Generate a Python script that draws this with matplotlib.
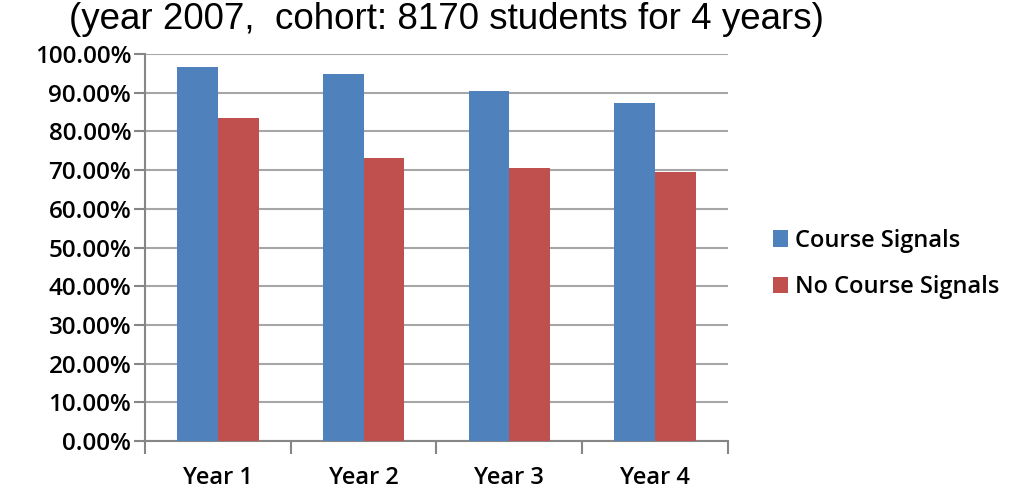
import numpy as np
import matplotlib.pyplot as plt
from matplotlib.ticker import FuncFormatter

years = ["Year 1", "Year 2", "Year 3", "Year 4"]
course_signals = [96.7, 94.8, 90.5, 87.3]
no_course_signals = [83.4, 73.1, 70.5, 69.4]
yticks = np.arange(0, 101, 10)

blue = "#4f81bd"
red = "#c0504d"
axis_gray = "#868686"
lab_font = {"family": "Open Sans", "weight": "semibold", "size": 17}

fig = plt.figure(figsize=(10.22, 4.92), dpi=100)
ax = fig.add_axes([0.1419, 0.1037, 0.5704, 0.7865])

x = np.arange(len(years))
w = 0.28
ax.bar(x - w/2, course_signals, w, color=blue, label="Course Signals", zorder=3)
ax.bar(x + w/2, no_course_signals, w, color=red, label="No Course Signals", zorder=3)

ax.set_xlim(-0.5, len(years) - 0.5)
ax.set_ylim(0, 100)
ax.set_yticks(yticks)
ax.yaxis.set_major_formatter(FuncFormatter(lambda v, p: "%.2f%%" % v))
ax.set_xticks(x)
ax.set_xticklabels(years)
ax.set_xticks(np.arange(len(years) + 1) - 0.5, minor=True)

ax.grid(axis="y", color="#a6a6a6", linewidth=1.5, zorder=0)
for s in ["top", "right"]:
    ax.spines[s].set_visible(False)
for s in ["left", "bottom"]:
    ax.spines[s].set_color(axis_gray)
    ax.spines[s].set_linewidth(1.5)

ax.tick_params(axis="y", length=8, width=1.5, color=axis_gray, pad=2)
ax.tick_params(axis="x", which="major", length=0, pad=18)
ax.tick_params(axis="x", which="minor", length=9, width=1.5, color=axis_gray)
for lab in ax.get_xticklabels() + ax.get_yticklabels():
    lab.set_family(lab_font["family"])
    lab.set_fontweight(lab_font["weight"])
    lab.set_fontsize(lab_font["size"])
for lab in ax.get_yticklabels():
    lab.set_fontsize(17.5)

fig.text(0.068, 0.941, "(year 2007,  cohort: 8170 students for 4 years)",
         fontsize=26.5, family="Liberation Sans", va="baseline")

leg = ax.legend(loc="center left", bbox_to_anchor=(773/1022, 1 - 264/492),
                bbox_transform=fig.transFigure, frameon=False, prop=lab_font,
                borderpad=0, borderaxespad=0,
                handlelength=0.65, handleheight=0.7, handletextpad=0.3,
                labelspacing=0.95)

fig.savefig("out.png", dpi=100)
